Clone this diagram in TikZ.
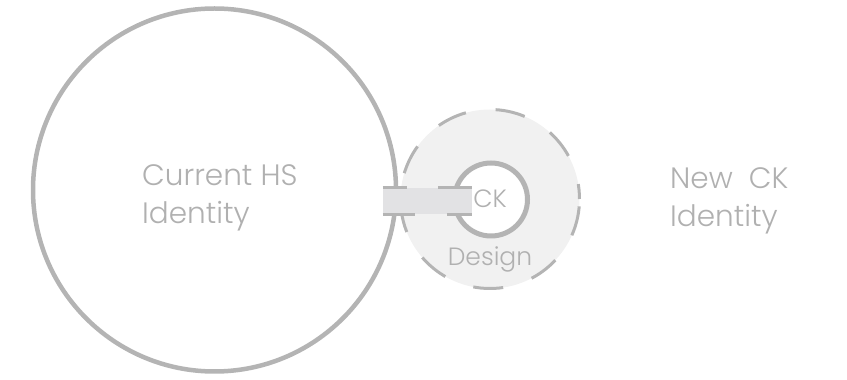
\documentclass[tikz,border=0pt]{standalone}
\usepackage{fontspec}
\setmainfont{Poppins Light}
\usetikzlibrary{positioning}
\definecolor{ring}{RGB}{180,180,180}
\definecolor{halo}{RGB}{241,241,241}
\definecolor{barfill}{RGB}{226,226,228}
\definecolor{inkgrey}{RGB}{176,176,176}

\begin{document}
\begin{tikzpicture}[x=1pt, y=1pt,
    hsring/.style={circle, draw=ring, line width=4.5pt, fill=white,
                   minimum size=363pt, inner sep=0pt},
    haloring/.style={circle, draw=ring, fill=halo, line width=3pt,
                     dash pattern=on 30pt off 30pt, dash phase=15pt,
                     minimum size=179pt, inner sep=0pt},
    corering/.style={circle, draw=ring, fill=white, line width=5pt,
                     minimum size=73pt, inner sep=0pt},
    linkbar/.style={rectangle, fill=barfill, minimum width=89pt,
                    minimum height=26pt, inner sep=0pt},
    bardash/.style={draw=ring, line width=3pt},
    lbl/.style={text=inkgrey, font=\fontsize{29.5}{38}\selectfont,
                align=left, inner sep=0pt},
    small/.style={text=inkgrey, font=\fontsize{25}{30}\selectfont, inner sep=0pt},
  ]
    \useasboundingbox (0,0) rectangle (847,380);

    \node[haloring] (halo) at (490,181) {};
    \node[hsring]   (hs)   at (214.5,190) {};
    \node[corering] (core) at (491,180.5) {};
    \node[linkbar]  (bar)  at (427.5,179) {};

    \draw[bardash, dash pattern=on 24pt off 31pt on 40pt] (bar.north west) -- (bar.north east);
    \draw[bardash, dash pattern=on 32pt off 32pt on 30pt] (bar.south west) -- (bar.south east);

    \node[lbl, anchor=north west] (cur) at (142,216) {Current HS\\Identity};
    \node[lbl, anchor=north west] (new) at (670,213) {New\ \ CK\\Identity};
    \node[small, anchor=base] (ck)  at (490,172) {CK};
    \node[small, anchor=base] (des) at (490,114) {Design};
  \end{tikzpicture}
\end{document}
